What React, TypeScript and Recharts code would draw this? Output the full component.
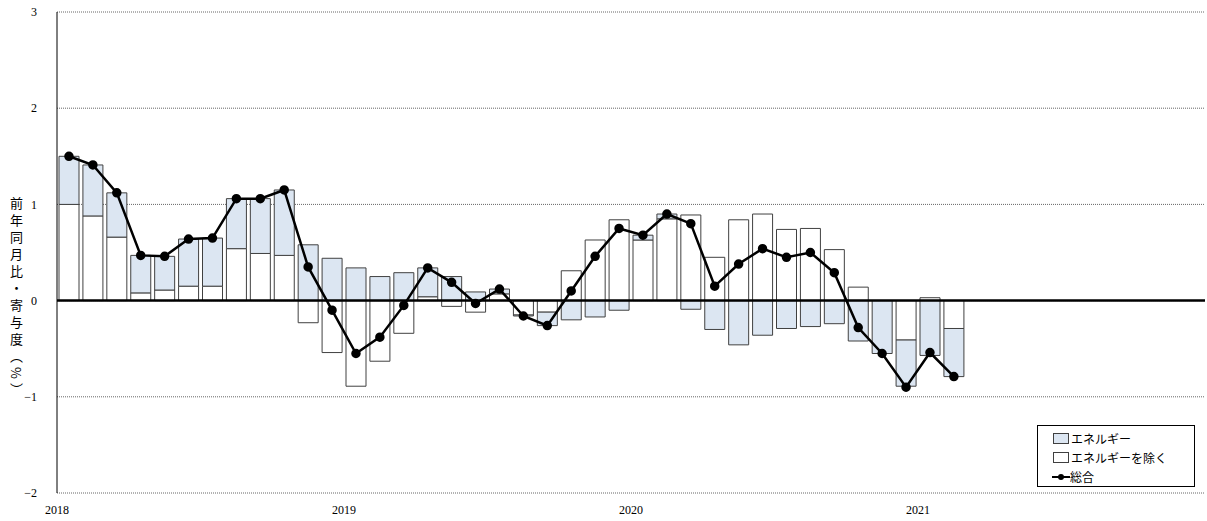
import { Bar, CartesianGrid, ComposedChart, Line, ReferenceLine, XAxis, YAxis } from "recharts";

const months = Array.from({ length: 38 }, (_, i) => `${2018 + Math.floor(i / 12)}-${(i % 12) + 1}`);

const energy = [
  0.5, 0.53, 0.46, 0.39, 0.35, 0.49, 0.5, 0.52, 0.57, 0.68,
  0.58, 0.44, 0.34, 0.25, 0.29, 0.3, 0.25, 0.09, 0.05, -0.01,
  -0.14, -0.2, -0.17, -0.1, 0.05, 0.05, -0.09, -0.3, -0.46, -0.36,
  -0.29, -0.27, -0.24, -0.42, -0.55, -0.48, -0.57, -0.5,
];

const nonEnergy = [
  1.0, 0.88, 0.66, 0.08, 0.11, 0.15, 0.15, 0.54, 0.49, 0.47,
  -0.23, -0.54, -0.89, -0.63, -0.34, 0.04, -0.06, -0.12, 0.07, -0.15,
  -0.12, 0.31, 0.63, 0.84, 0.63, 0.85, 0.89, 0.45, 0.84, 0.9,
  0.74, 0.75, 0.53, 0.14, 0.0, -0.41, 0.03, -0.29,
];

const total = [
  1.5, 1.41, 1.12, 0.47, 0.46, 0.64, 0.65, 1.06, 1.06, 1.15,
  0.35, -0.1, -0.55, -0.38, -0.05, 0.34, 0.19, -0.03, 0.12, -0.16,
  -0.26, 0.1, 0.46, 0.75, 0.68, 0.9, 0.8, 0.15, 0.38, 0.54,
  0.45, 0.5, 0.29, -0.28, -0.55, -0.9, -0.54, -0.79,
];

const yearTicks = [0, 12, 24, 36];
const yearLabels = ["2018", "2019", "2020", "2021"];
const yTicks = [-2, -1, 0, 1, 2, 3];

const data = months.map((m, i) => ({
  x: i + 0.5,
  month: m,
  nonEnergy: nonEnergy[i],
  energy: energy[i],
  total: total[i],
}));

const font = "'Liberation Serif', 'Noto Sans CJK JP', serif";
const blue = "#dce6f2";
const edge = "#404040";

export default function App() {
  return (
    <div style={{ position: "absolute", left: 0, top: 0, width: 1207, height: 521, background: "#fff", fontFamily: font }}>
      <ComposedChart
        width={1207}
        height={521}
        data={data}
        stackOffset="sign"
        margin={{ top: 12, right: 2, bottom: 0, left: 0 }}
      >
        <CartesianGrid vertical={false} stroke="#666" strokeDasharray="1 1" />
        <XAxis
          type="number"
          dataKey="x"
          height={28}
          domain={[0, 48]}
          ticks={yearTicks}
          tickFormatter={(v) => yearLabels[yearTicks.indexOf(v)]}
          axisLine={false}
          tickLine={false}
          tick={{ fill: "#000", fontSize: 12, fontFamily: font }}
          tickMargin={6}
        />
        <YAxis
          width={57}
          domain={[-2, 3]}
          ticks={yTicks}
          interval={0}
          axisLine={{ stroke: "#000" }}
          tickLine={false}
          tick={{ fill: "#000", fontSize: 12, fontFamily: font }}
          tickFormatter={(v) => (v < 0 ? `\u2212${-v}` : `${v}`)}
          tickMargin={14}
        />
        <Bar dataKey="nonEnergy" stackId="a" fill="#fff" stroke={edge} strokeWidth={1} barSize={20} isAnimationActive={false} />
        <Bar dataKey="energy" stackId="a" fill={blue} stroke={edge} strokeWidth={1} barSize={20} isAnimationActive={false} />
        <ReferenceLine y={0} stroke="#000" strokeWidth={2.5} />
        <Line
          dataKey="total"
          stroke="#000"
          strokeWidth={2.5}
          dot={{ r: 3.5, fill: "#000", stroke: "#000" }}
          isAnimationActive={false}
        />
      </ComposedChart>
      <div
        style={{
          position: "absolute",
          left: 8,
          top: 197,
          width: 16,
          height: 210,
          writingMode: "vertical-rl",
          fontSize: 13,
          lineHeight: "16px",
          letterSpacing: 4,
          fontFamily: "'Noto Sans CJK JP', serif",
        }}
      >
        前年同月比・寄与度（%）
      </div>
      <div
        style={{
          position: "absolute",
          left: 1037,
          top: 425,
          width: 158,
          height: 62,
          border: "1px solid #000",
          background: "#fff",
          fontSize: 12,
          fontFamily: "'Noto Sans CJK JP', serif",
          padding: "3px 0 0 14px",
          boxSizing: "border-box",
          lineHeight: "19px",
        }}
      >
        {[
          { label: "エネルギー", kind: "blue" },
          { label: "エネルギーを除く", kind: "white" },
          { label: "総合", kind: "line" },
        ].map((it) => (
          <div key={it.label} style={{ display: "flex", alignItems: "center" }}>
            {it.kind === "line" ? (
              <svg width={18} height={10}>
                <line x1={0} y1={5} x2={18} y2={5} stroke="#000" strokeWidth={2} />
                <circle cx={9} cy={5} r={3} fill="#000" />
              </svg>
            ) : (
              <span
                style={{
                  display: "inline-block",
                  width: 14,
                  height: 9,
                  marginRight: 2,
                  marginLeft: 1,
                  border: `1px solid ${edge}`,
                  background: it.kind === "blue" ? blue : "#fff",
                }}
              />
            )}
            <span>{it.label}</span>
          </div>
        ))}
      </div>
    </div>
  );
}
